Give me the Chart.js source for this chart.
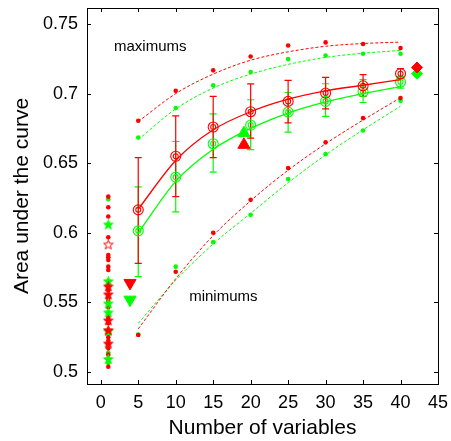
<!DOCTYPE html>
<html>
<head>
<meta charset="utf-8">
<script src="https://cdn.jsdelivr.net/npm/chart.js@4.4.1/dist/chart.umd.min.js"></script>
<style>
  html, body { margin: 0; padding: 0; background: #fff; }
</style>
</head>
<body>
<canvas id="auc" width="451" height="441"></canvas>
<script>
// data
const nVars = [5, 10, 15, 20, 25, 30, 35, 40];

const redMean = [0.6165, 0.655, 0.676, 0.687, 0.6944, 0.7004, 0.7056, 0.7143];
const greenMean = [0.6014, 0.640, 0.664, 0.6774, 0.6867, 0.6944, 0.7013, 0.7083];
const redLow = [0.578, 0.626, 0.654, 0.668, 0.679, 0.689, 0.698, 0.7107];
const redHigh = [0.654, 0.684, 0.698, 0.707, 0.7095, 0.7116, 0.7136, 0.718];
const greenLow = [0.5685, 0.615, 0.6436, 0.6597, 0.6724, 0.6836, 0.6936, 0.704];
const greenHigh = [0.633, 0.6656, 0.6855, 0.6956, 0.7008, 0.7071, 0.710, 0.7123];
const redFit = [0.617, 0.652, 0.674, 0.687, 0.696, 0.702, 0.706, 0.710];
const greenFit = [0.600, 0.637, 0.660, 0.675, 0.686, 0.694, 0.700, 0.705];

const redMax = [0.6805, 0.702, 0.7167, 0.7267, 0.7346, 0.7368, 0.7356, 0.7327];
const greenMax = [0.6685, 0.6896, 0.7059, 0.7155, 0.7248, 0.7274, 0.7286, 0.7286];
const redMaxFit = [0.680, 0.700, 0.714, 0.724, 0.730, 0.734, 0.736, 0.737];
const greenMaxFit = [0.667, 0.689, 0.704, 0.714, 0.721, 0.726, 0.729, 0.731];

const redMin = [0.5266, 0.572, 0.600, 0.6237, 0.6465, 0.665, 0.6824, 0.6968];
const greenMin = [0.527, 0.5757, 0.5933, 0.6129, 0.6386, 0.6565, 0.6735, 0.6948];
const redMinFit = [0.531, 0.567, 0.598, 0.623, 0.645, 0.664, 0.681, 0.697];
const greenMinFit = [0.535, 0.566, 0.592, 0.614, 0.636, 0.656, 0.674, 0.691];

// single-variable results at x = 1
const singleX = 1;
const singleRedDots = [0.626, 0.6184, 0.6117, 0.5968, 0.584, 0.5825, 0.5805, 0.5757, 0.5733, 0.5588, 0.553, 0.551,
  0.5465, 0.539, 0.535, 0.525, 0.5225, 0.52, 0.517, 0.5125, 0.5038];
const singleGreenDots = [0.6241, 0.5638, 0.548, 0.5398, 0.527, 0.514, 0.5065];
const singleRedOpenStars = [0.5913];
const singleRedStars = [0.5612, 0.5555, 0.5368, 0.5298, 0.5202];
const singleGreenStars = [0.6057, 0.565, 0.549, 0.5425, 0.529, 0.509];

// other markers
const redTriDown = [{x: 3.9, y: 0.564}];
const greenTriDown = [{x: 3.9, y: 0.552}];
const redTriUp = [{x: 19.1, y: 0.6632}];
const greenTriUp = [{x: 19.1, y: 0.6716}];
const redDiamond = [{x: 42.2, y: 0.7188}];
const greenDiamond = [{x: 42.2, y: 0.7143}];

const xTicks = [0, 5, 10, 15, 20, 25, 30, 35, 40, 45];
const yTicks = [0.5, 0.55, 0.6, 0.65, 0.7, 0.75];

const RED = 'rgb(255,0,0)';
const GREEN = 'rgb(0,255,0)';
const FONT = 'Liberation Sans, Arial, Helvetica, sans-serif';

const pts = (xs, ys) => xs.map((x, i) => ({x: x, y: ys[i]}));
const col = (ys) => ys.map(y => ({x: singleX, y: y}));

function starCanvas(color, filled) {
  const c = document.createElement('canvas');
  c.width = 11; c.height = 11;
  const g = c.getContext('2d');
  g.beginPath();
  for (let i = 0; i < 10; i++) {
    const r = i % 2 ? 2.1 : 5;
    const a = -Math.PI / 2 + i * Math.PI / 5;
    g.lineTo(5.5 + r * Math.cos(a), 5.5 + r * Math.sin(a));
  }
  g.closePath();
  g.strokeStyle = color;
  g.lineWidth = 1;
  if (filled) { g.fillStyle = color; g.fill(); }
  g.stroke();
  return c;
}

function fitLine(data, color, dashed) {
  return {
    type: 'line', data: data, borderColor: color, borderWidth: dashed ? 1 : 1.3,
    borderDash: dashed ? [3, 2] : [], pointRadius: 0, cubicInterpolationMode: 'monotone', fill: false
  };
}
function dots(data, color, r) {
  return { data: data, pointRadius: r || 2.3, pointBackgroundColor: color, pointBorderColor: color, pointBorderWidth: 0 };
}
function marker(data, color, style, r, rot) {
  return { data: data, pointStyle: style, pointRadius: r, pointRotation: rot || 0,
    pointBackgroundColor: color, pointBorderColor: color, pointBorderWidth: 1 };
}
function ring(data, color, r) {
  return { data: data, pointRadius: r, pointBackgroundColor: 'rgba(0,0,0,0)', pointBorderColor: color, pointBorderWidth: 1.1 };
}

// error bars under the markers
const errorBars = {
  id: 'errorBars',
  beforeDatasetsDraw(chart) {
    const {ctx, scales: {x, y}} = chart;
    const draw = (lo, hi, color) => {
      ctx.save();
      ctx.strokeStyle = color;
      ctx.lineWidth = 1.2;
      nVars.forEach((v, i) => {
        const px = x.getPixelForValue(v);
        const y1 = y.getPixelForValue(lo[i]);
        const y2 = y.getPixelForValue(hi[i]);
        ctx.beginPath();
        ctx.moveTo(px, y1); ctx.lineTo(px, y2);
        ctx.moveTo(px - 3.5, y1); ctx.lineTo(px + 3.5, y1);
        ctx.moveTo(px - 3.5, y2); ctx.lineTo(px + 3.5, y2);
        ctx.stroke();
      });
      ctx.restore();
    };
    draw(greenLow, greenHigh, GREEN);
    draw(redLow, redHigh, RED);
  }
};

// box with inward ticks and the two text notes
const frame = {
  id: 'frame',
  afterDraw(chart) {
    const {ctx, chartArea: a, scales: {x, y}} = chart;
    ctx.save();
    ctx.strokeStyle = '#000';
    ctx.lineWidth = 1;
    ctx.strokeRect(Math.round(a.left) + 0.5, Math.round(a.top) + 0.5, Math.round(a.right - a.left), Math.round(a.bottom - a.top));
    ctx.beginPath();
    xTicks.forEach(t => {
      const px = Math.round(x.getPixelForValue(t)) + 0.5;
      ctx.moveTo(px, a.bottom); ctx.lineTo(px, a.bottom - 4);
      ctx.moveTo(px, a.top); ctx.lineTo(px, a.top + 4);
    });
    yTicks.forEach(t => {
      const py = Math.round(y.getPixelForValue(t)) + 0.5;
      ctx.moveTo(a.left, py); ctx.lineTo(a.left + 4, py);
      ctx.moveTo(a.right, py); ctx.lineTo(a.right - 4, py);
    });
    ctx.stroke();
    ctx.fillStyle = '#000';
    ctx.font = '15px ' + FONT;
    ctx.textAlign = 'center';
    ctx.textBaseline = 'middle';
    ctx.fillText('maximums', x.getPixelForValue(6.6), y.getPixelForValue(0.7337));
    ctx.fillText('minimums', x.getPixelForValue(16.35), y.getPixelForValue(0.554));
    ctx.restore();
  }
};

new Chart(document.getElementById('auc'), {
  type: 'scatter',
  data: {
    datasets: [
      marker(redDiamond, RED, 'rectRot', 5.5),
      marker(greenDiamond, GREEN, 'rectRot', 5.5),
      marker(redTriUp, RED, 'triangle', 7),
      marker(greenTriUp, GREEN, 'triangle', 7),
      marker(redTriDown, RED, 'triangle', 7, 180),
      marker(greenTriDown, GREEN, 'triangle', 7, 180),
      ring(pts(nVars, redMean), RED, 5),
      ring(pts(nVars, redMean), RED, 2.5),
      fitLine(pts(nVars, redFit), RED, false),
      ring(pts(nVars, greenMean), GREEN, 5),
      ring(pts(nVars, greenMean), GREEN, 2.5),
      fitLine(pts(nVars, greenFit), GREEN, false),
      dots(pts(nVars, redMax), RED),
      fitLine(pts(nVars, redMaxFit), RED, true),
      dots(pts(nVars, greenMax), GREEN),
      fitLine(pts(nVars, greenMaxFit), GREEN, true),
      dots(pts(nVars, redMin), RED),
      fitLine(pts(nVars, redMinFit), RED, true),
      dots(pts(nVars, greenMin), GREEN),
      fitLine(pts(nVars, greenMinFit), GREEN, true),
      { data: col(singleRedOpenStars), pointStyle: starCanvas(RED, false) },
      { data: col(singleRedStars), pointStyle: starCanvas(RED, true) },
      { data: col(singleGreenStars), pointStyle: starCanvas(GREEN, true) },
      dots(col(singleRedDots), RED),
      dots(col(singleGreenDots), GREEN)
    ]
  },
  options: {
    responsive: false,
    animation: false,
    layout: { padding: { top: 8, right: 13, left: 0, bottom: 0 } },
    plugins: { legend: { display: false }, tooltip: { enabled: false } },
    scales: {
      x: {
        type: 'linear', min: -1.84, max: 45,
        afterBuildTicks: s => { s.ticks = xTicks.map(v => ({value: v})); },
        afterFit: s => { s.height = 57; s.paddingLeft = 0; s.paddingRight = 0; },
        grid: { display: false, drawTicks: false },
        border: { display: false },
        ticks: { color: '#000', padding: 8, maxRotation: 0, font: { family: FONT, size: 18 } },
        title: { display: true, text: 'Number of variables', color: '#000', padding: { top: 0, bottom: 0 },
          font: { family: FONT, size: 21 } }
      },
      y: {
        type: 'linear', min: 0.4914, max: 0.7615,
        afterBuildTicks: s => { s.ticks = yTicks.map(v => ({value: v})); },
        afterFit: s => { s.width = 87; s.paddingTop = 0; s.paddingBottom = 0; },
        grid: { display: false, drawTicks: false },
        border: { display: false },
        ticks: { color: '#000', padding: 9, font: { family: FONT, size: 18 },
          callback: v => String(Number(v.toFixed(2))) },
        title: { display: true, text: 'Area under the curve', color: '#000', padding: { top: 10, bottom: 0 },
          font: { family: FONT, size: 21 } }
      }
    }
  },
  plugins: [errorBars, frame]
});
</script>
</body>
</html>
